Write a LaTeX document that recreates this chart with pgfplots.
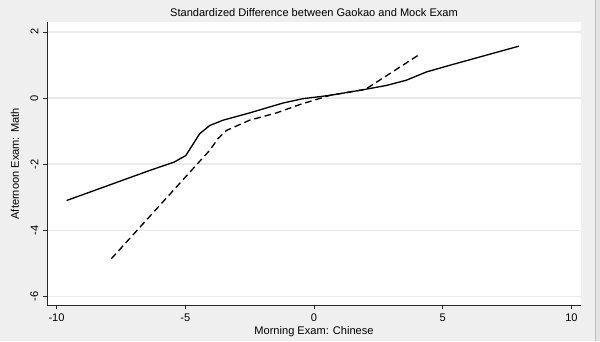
\documentclass[border=0pt]{standalone}
\usepackage{fontspec}
\setmainfont{Liberation Sans}
\usepackage{pgfplots}
\pgfplotsset{compat=1.18}
\definecolor{bgray}{RGB}{239,239,239}
\definecolor{gridc}{RGB}{234,234,234}
\definecolor{stripe}{RGB}{228,228,228}
\definecolor{axc}{RGB}{40,40,40}
\begin{document}
\begin{tikzpicture}
\fill[bgray] (0,0) rectangle (450pt,255.75pt);
\fill[stripe] (446.5pt,0) rectangle (450pt,255.75pt);
\draw[black!25, line width=0.5pt] (446.6pt,0) -- (446.6pt,255.75pt);
\useasboundingbox (0,0) rectangle (450pt,255.75pt);
\begin{axis}[
  at={(35.25pt,27pt)}, anchor=south west,
  scale only axis, width=400.5pt, height=212.25pt,
  xmin=-10.37, xmax=10.37, ymin=-6.27, ymax=2.29,
  axis background/.style={fill=white},
  axis lines*=left,
  axis line style={axc, line width=0.7pt, -},
  xtick={-10,-5,0,5,10},
  xticklabels={-10,-5,0,5,10},
  ytick={-6,-4,-2,0,2},
  yticklabels={-6,-4,-2,0,2},
  tick align=outside,
  major tick length=3pt,
  tick style={axc, line width=0.6pt},
  ymajorgrids,
  grid style={gridc, line width=1pt},
  font=\fontsize{8.3}{10}\selectfont,
  ticklabel style={font=\fontsize{8.3}{10}\selectfont},
  yticklabel style={rotate=90, anchor=south},
  every axis title shift=0pt,
  title={Standardized Difference between Gaokao and Mock Exam},
  title style={at={(axis description cs:0.5,1.0353)}, anchor=center, font=\fontsize{8.3}{10}\selectfont},
  xlabel={Morning Exam: Chinese},
  xlabel style={at={(axis description cs:0.5,-0.0919)}, anchor=center},
  ylabel={Afternoon Exam: Math},
  ylabel style={at={(axis description cs:-0.0599,0.5)}, anchor=center},
  clip=false,
]
\addplot[black, line width=1pt, no markers] coordinates {
(-9.61,-3.10) (-6.38,-2.19) (-5.44,-1.94) (-4.98,-1.74) (-4.44,-1.08)
(-4.05,-0.83) (-3.53,-0.67) (-2.50,-0.45) (-1.20,-0.15) (-0.43,-0.02)
(0.61,0.08) (1.90,0.25) (2.81,0.38) (3.59,0.54) (4.37,0.79) (5.27,0.99) (7.96,1.57)
};
\addplot[black, line width=1pt, no markers, dash pattern=on 5pt off 3pt] coordinates {
(-7.87,-4.86) (-4.05,-1.58) (-3.73,-1.23) (-3.40,-0.98) (-2.50,-0.67)
(-1.46,-0.45) (-0.56,-0.20) (0.61,0.08) (1.90,0.25) (2.03,0.28) (4.04,1.29)
};
\end{axis}
\end{tikzpicture}
\end{document}
